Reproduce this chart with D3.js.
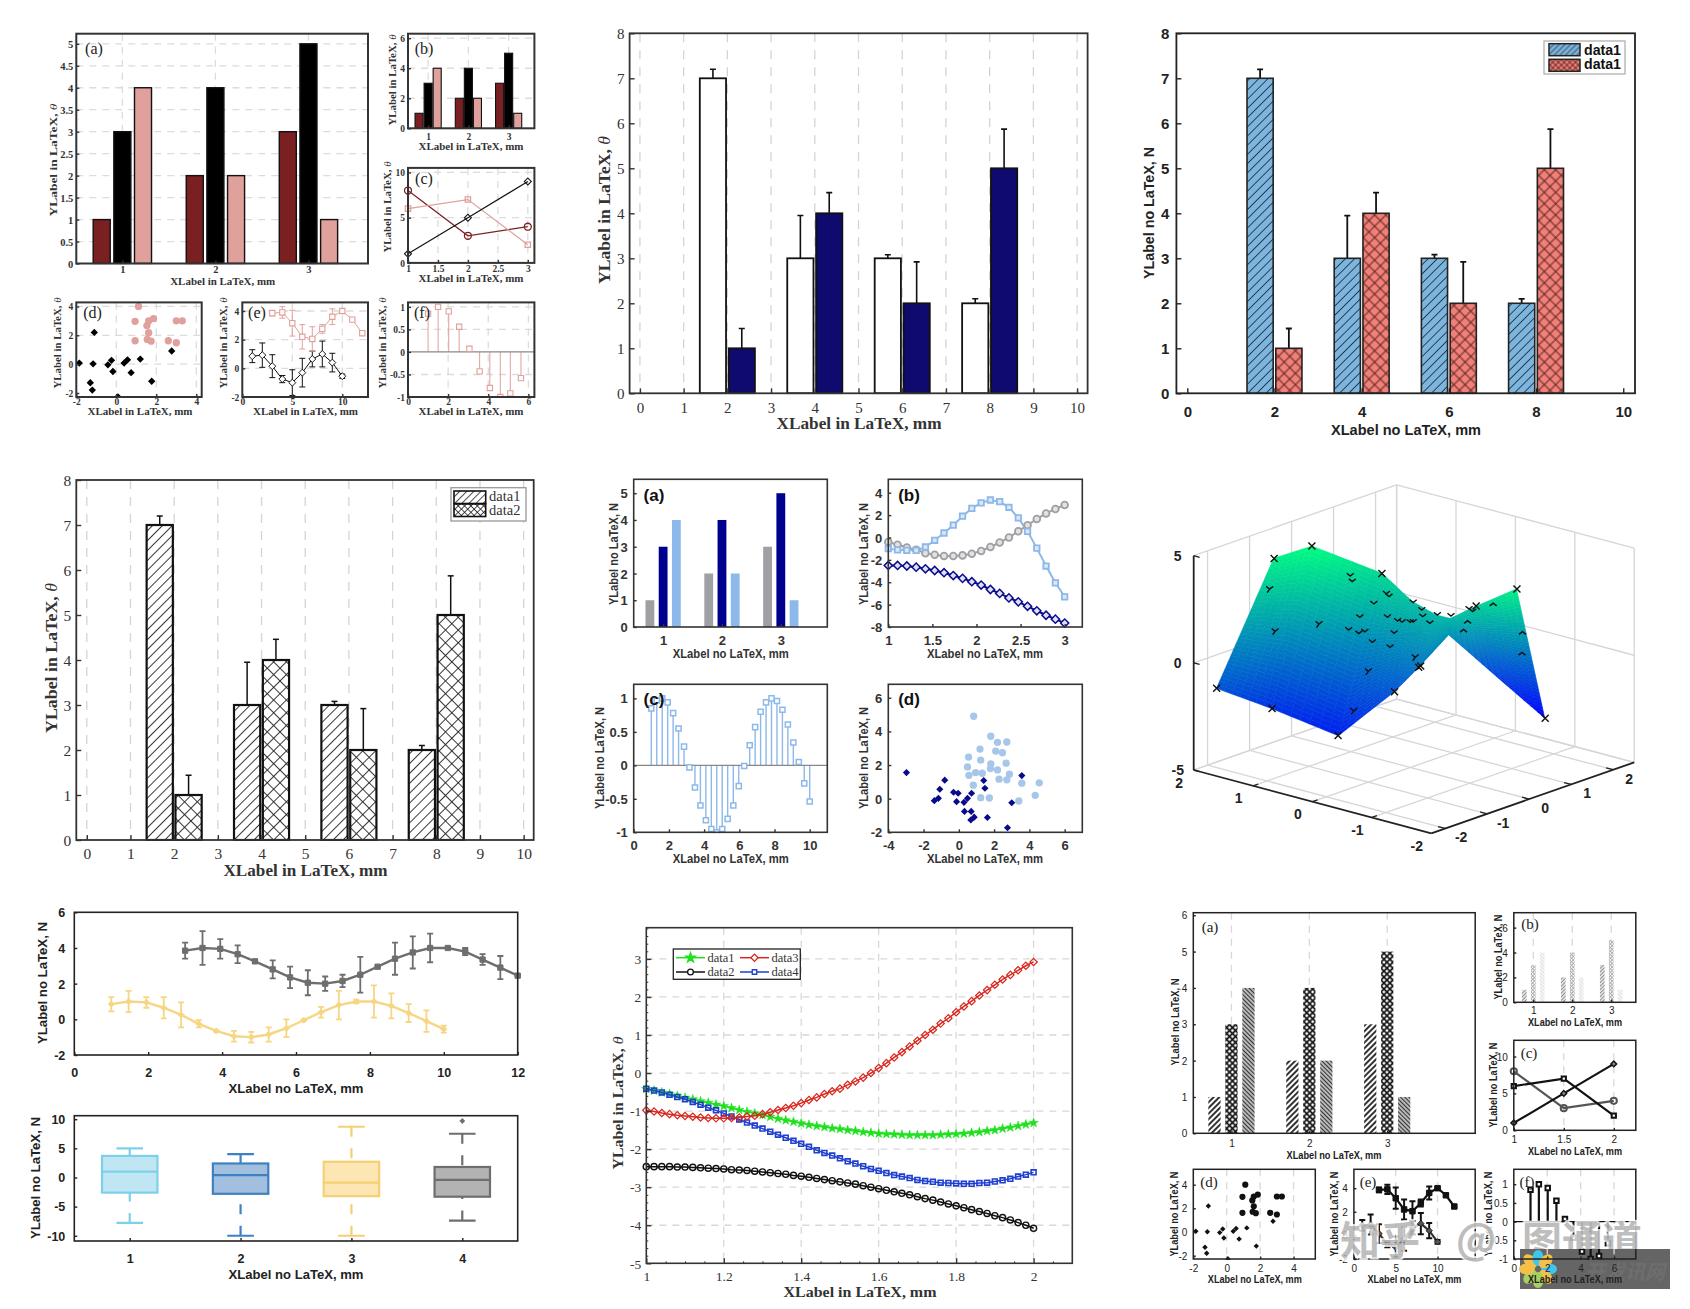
<!DOCTYPE html>
<html><head><meta charset="utf-8">
<script src="https://cdnjs.cloudflare.com/ajax/libs/d3/7.8.5/d3.min.js"></script>
<style>html,body{margin:0;padding:0;background:#fff}svg{display:block}</style>
</head><body>
<script>
// ---------- DATA ----------
const groups3 = [1,2,3];
const barA = [1,2,3], barB = [3,4,5], barC = [4,2,1];
const lineX3 = [1,2,3], lineX2 = [1,1.5,2];
const lineCircle = [8,3,4], lineSquare = [6,7,2], lineDiamond = [1,5,9];

const scatBlackX = [-1.85,-1.16,-1.10,-1.30,-1.20,-0.42,-0.24,-0.17,0.08,0.39,0.56,0.74,1.20,1.77,2.77];
const scatBlackY = [0.07,0.02,2.2,-1.29,-1.8,-0.05,0.26,-0.51,-2.27,0.07,0.3,-0.59,0.35,-1.19,0.91];
const scatPinkX = [1.11,0.94,1.62,1.86,1.53,1.62,1.55,1.74,0.94,2.6,3,3,3.3];
const scatPinkY = [4,2.97,3,3.16,2.67,2.18,1.71,1.59,1.62,1.62,1.48,3,3];

const errX1 = [1,2,3,4,5,6,7,8,9,10];
const errY1 = [0.85,0.92,0.15,-0.75,-1,-0.3,0.65,1,0.4,-0.55];
const errE1 = [0.45,0.85,0.8,0.25,0.9,1,0.55,0.9,0.65,0.15];
const errX2 = [3,4,5,6,7,8,9,10,11,12];
const errY2 = [3.85,3.9,3.15,2.2,2.05,2.75,3.6,4,3.4,2.45];
const errE2 = [0.2,0.4,0.9,0.85,0.85,0.3,0.55,0.1,0.1,0.1];

const stemX = [1,1.5,2.03,2.55,3.06,3.57,4.08,4.6,5.1,5.63];
const stemY = [0.85,1,0.9,0.56,0.07,-0.43,-0.8,-1,-0.92,-0.58];

const pairX = [2,4,6,8];
const pairA = [7,3,3,2], pairB = [1,4,2,5];
const pairErrA = [0.2,0.95,0.08,0.1], pairErrB = [0.44,0.46,0.92,0.87];
const pairXTicks = [0,1,2,3,4,5,6,7,8,9,10];

const curveX = [1,1.105,1.21,1.316,1.421,1.526,1.632,1.737,1.842,1.947,2.053,2.158,2.263,2.368,2.474,2.579,2.684,2.789,2.895,3];
const curveGray = [-0.4,-0.65,-0.9,-1.1,-1.4,-1.55,-1.65,-1.65,-1.6,-1.45,-1.2,-0.85,-0.45,0,0.55,1.1,1.65,2.15,2.55,2.9];
const curveBlue = [-1,-1.1,-1.15,-1.15,-0.85,-0.25,0.4,1.1,1.9,2.6,3.1,3.35,3.2,2.7,1.75,0.55,-0.95,-2.55,-4.05,-5.3];
const curveNavy = [-2.5,-2.5,-2.55,-2.65,-2.8,-2.95,-3.15,-3.4,-3.65,-3.95,-4.25,-4.65,-5,-5.4,-5.75,-6.15,-6.55,-6.95,-7.3,-7.65];

const sineX = [1,1.31,1.62,1.93,2.24,2.55,2.86,3.17,3.48,3.79,4.1,4.41,4.72,5.03,5.34,5.66,5.97,6.28,6.59,6.9,7.21,7.52,7.83,8.14,8.45,8.76,9.07,9.38,9.69,10];
const sineY = [0.85,0.97,1,0.94,0.78,0.55,0.28,-0.03,-0.33,-0.6,-0.82,-0.95,-1,-0.95,-0.8,-0.6,-0.31,-0.01,0.3,0.57,0.8,0.94,1,0.96,0.83,0.61,0.34,0.05,-0.27,-0.54];

const cloudBlueX = [0.84,1.81,2.19,2.72,1.2,2.09,2.47,0.55,1.24,2.68,1.81,0.49,1.79,2.19,0.57,1.33,0.95,2.87,2.28,2.72,0.82,3.57,4.56,4.33,1.24,1.73,3.4];
const cloudBlueY = [4.9,3.71,3.35,3.37,2.95,2.83,2.73,2.47,2.29,2.11,2.07,1.89,1.79,1.71,1.39,1.51,1.55,1.45,1.16,1.12,0.8,0.92,0.94,0.2,0.06,0.04,-0.14];
const cloudNavyX = [-2.97,-0.8,-1.08,-1.16,-1.39,-0.3,-0.13,-0.04,0.29,0.49,0.72,0.32,0.7,0.87,0.68,1.41,1.48,1.62,2.76,3,3.57];
const cloudNavyY = [1.55,1.1,0.56,0.02,-0.12,0.38,-0.18,0.32,-0.22,0.02,0.32,-0.76,-0.76,-1.1,-1.27,1.08,0.62,-1.12,-1.73,-0.24,1.37];

// 3D surface: upper and lower edges of the two sheets
const leftTopX = [2.04,1.72,0.92,0.27,-0.2,-0.43], leftTopY = [-0.37,0.09,0.63,0.43,0.33,0.34], leftTopZ = [3.51,4,2.95,2.25,2.04,2.04];
const leftBotX = [1.49,0.94,-0.11,-0.3,-0.36,-0.29], leftBotY = [-2.51,-1.97,-1.87,-0.8,-0.31,0.5], leftBotZ = [-0.69,-1.6,-2.16,-0.69,0.15,1.06];
const rightTopX = [-0.43,-0.67,-1.2], rightTopY = [0.34,0.62,0.83], rightTopZ = [2.04,2.6,3.65];
const rightBotX = [-0.29,-0.54,-1.11], rightBotY = [0.5,1.29,1.63], rightBotZ = [1.06,-1.25,-3];

const ptX = [2.37,1.82,1.46,0.79,1.21,0.67,0.44,0.42,-0.5,-0.77,-0.11,1.84,
  1.86,1.81,1.39,1.09,1.07,0.75,0.72,0.87,1.0,1.11,1.01,0.95,0.88,0.71,0.67,0.74,0.64,0.6,0.52,0.49,0.49,0.41,0.4,0.33,0.26,0.13,-0.04,-0.08,0.47,0.92,1.06,
  -0.27,-0.03,0.01,-0.55,-0.55];
const ptY = [-1.26,-0.67,-0.28,0.44,-0.01,0.57,0.82,0.84,1.83,2.12,1.41,-0.69,
  -0.72,-0.66,-0.21,0.11,0.13,0.49,0.51,0.36,0.21,0.1,0.2,0.26,0.34,0.52,0.56,0.5,0.6,0.65,0.73,0.76,0.76,0.85,0.86,0.93,1.01,1.15,1.34,1.37,0.78,0.3,0.15,
  1.59,1.32,1.28,1.89,1.88];
const ptZ = [-2.19,3.87,4.45,3.17,-4.4,-2.35,-1.21,-1.15,2.44,-3.59,1.65,-3.14,
  2.44,0.47,0.81,3.05,2.79,2.21,2.09,1.74,1.12,0.52,0.36,0.45,-0.04,-0.28,0.38,1.12,0.95,0.89,0.89,0.9,1.81,1.46,1.15,0.84,1.23,1.18,1.5,1.39,-0.74,-1.4,-3.25,
  1.78,0.97,0.56,0.45,-0.51];
const ptKind = ['x','x','x','x','x','x','x','x','x','x','x','x',
  'y','y','y','v','v','v','v','v','v','v','v','v','v','v','v','v','v','v','v','v','v','v','v','v','v','v','v','v','y','y','y',
  'n','n','n','n','n'];

const seqX1 = [1,1.47,1.95,2.42,2.89,3.37,3.84,4.32,4.79,5.26,5.74,6.21,6.68,7.16,7.63,8.11,8.58,9.05,9.53,10];
const seqY1 = [0.85,1,0.95,0.65,0.25,-0.25,-0.65,-0.95,-1,-0.85,-0.5,-0.05,0.4,0.8,1,1,0.75,0.35,-0.1,-0.55];
const seqE1 = [0.4,0.6,0.3,0.6,0.7,0.2,0.05,0.3,0.3,0.4,0.5,0.05,0.3,0.8,0.1,0.9,0.7,0.5,0.6,0.2];
const seqX2 = [3,3.47,3.95,4.42,4.89,5.37,5.84,6.32,6.79,7.26,7.74,8.21,8.68,9.16,9.63,10.11,10.58,11.05,11.53,12];
const seqY2 = [3.85,4,3.95,3.65,3.25,2.8,2.35,2.05,2,2.15,2.5,2.95,3.4,3.75,4,4,3.8,3.35,2.9,2.45];
const seqE2 = [0.45,0.95,0.55,0.5,0.1,0.5,0.6,0.7,0.4,0.35,1,0.05,0.9,0.9,0.8,0.05,0.2,0.3,0.65,0.05];

const boxPos = [1,2,3,4];
const boxQ1 = [-2.6,-2.8,-3.2,-3.3], boxMed = [1,0.4,-0.9,-0.4], boxQ3 = [3.7,2.4,2.7,1.8];
const boxLow = [-7.8,-10,-10,-7.4], boxHigh = [5,4,8.7,7.5];
const boxOutlierX = [4], boxOutlierY = [9.7];
const boxStroke = ['#7ed0ea','#3f80c0','#f6cf72','#6e6e6e'], boxFill = ['#c0e6f4','#a3bfe0','#fce6b4','#b3b3b3'];

const data1 = [-.42,-.46,-.51,-.55,-.6,-.65,-.69,-.74,-.78,-.83,-.87,-.92,-.97,-1.02,-1.06,-1.1,-1.15,-1.2,-1.24,-1.28,-1.32,-1.36,-1.39,-1.42,-1.45,-1.47,-1.5,-1.52,-1.55,-1.57,-1.59,-1.6,-1.61,-1.62,-1.63,-1.63,-1.63,-1.63,-1.62,-1.61,-1.6,-1.59,-1.57,-1.55,-1.52,-1.5,-1.46,-1.43,-1.39,-1.35,-1.31];
const data2 = [-2.46,-2.46,-2.46,-2.46,-2.47,-2.47,-2.48,-2.49,-2.5,-2.51,-2.52,-2.54,-2.55,-2.56,-2.58,-2.6,-2.62,-2.64,-2.66,-2.69,-2.71,-2.74,-2.77,-2.8,-2.83,-2.86,-2.89,-2.92,-2.96,-3,-3.04,-3.08,-3.12,-3.16,-3.2,-3.25,-3.3,-3.34,-3.39,-3.44,-3.49,-3.54,-3.59,-3.64,-3.69,-3.75,-3.8,-3.86,-3.93,-4,-4.08];
const data3 = [-.98,-1.01,-1.05,-1.08,-1.11,-1.13,-1.15,-1.17,-1.18,-1.19,-1.19,-1.18,-1.17,-1.14,-1.12,-1.08,-1.03,-.97,-.92,-.86,-.79,-.71,-.64,-.55,-.48,-.41,-.31,-.22,-.12,0,.13,.26,.41,.55,.7,.85,1,1.14,1.3,1.44,1.6,1.75,1.89,2.04,2.18,2.32,2.46,2.58,2.7,2.82,2.92];
const data4 = [-.41,-.46,-.51,-.57,-.63,-.69,-.76,-.83,-.91,-.98,-1.06,-1.14,-1.22,-1.3,-1.38,-1.46,-1.54,-1.62,-1.7,-1.78,-1.86,-1.94,-2.03,-2.1,-2.17,-2.24,-2.32,-2.38,-2.45,-2.52,-2.57,-2.63,-2.68,-2.72,-2.76,-2.81,-2.84,-2.86,-2.88,-2.89,-2.9,-2.91,-2.91,-2.89,-2.88,-2.85,-2.82,-2.78,-2.72,-2.67,-2.61];
const dataX = [1,1.02,1.04,1.06,1.08,1.1,1.12,1.14,1.16,1.18,1.2,1.22,1.24,1.26,1.28,1.3,1.32,1.34,1.36,1.38,1.4,1.42,1.44,1.46,1.48,1.5,1.52,1.54,1.56,1.58,1.6,1.62,1.64,1.66,1.68,1.7,1.72,1.74,1.76,1.78,1.8,1.82,1.84,1.86,1.88,1.9,1.92,1.94,1.96,1.98,2];

// ---------- STYLE CONSTANTS ----------
const SERIF='"Liberation Serif",serif', SANS='"Liberation Sans",sans-serif';
const DRED='#7a2023', PINK='#e0a09c', NAVY='#0a0a8c', LBLUE='#8db8ea', GRAY='#a0a0a4';
const XLL='XLabel in LaTeX, mm', XLN='XLabel no LaTeX, mm', YLL='YLabel in LaTeX, ', YLN='YLabel no LaTeX, N';

const svg=d3.select('body').append('svg').attr('width',1690).attr('height',1309)
  .attr('viewBox','0 0 1690 1309');
const defs=svg.append('defs');
function hatch(id,bg,fg,kind,s,sw,ang){
  const p=defs.append('pattern').attr('id',id).attr('patternUnits','userSpaceOnUse')
    .attr('width',s).attr('height',s).attr('patternTransform',`rotate(${ang})`);
  p.append('rect').attr('width',s).attr('height',s).attr('fill',bg);
  p.append('line').attr('x1',s/2).attr('x2',s/2).attr('y1',0).attr('y2',s).attr('stroke',fg).attr('stroke-width',sw);
  if(kind==='cross')p.append('line').attr('y1',s/2).attr('y2',s/2).attr('x1',0).attr('x2',s).attr('stroke',fg).attr('stroke-width',sw);
  return `url(#${id})`;
}
const hDiag=hatch('hDiag','#fff','#222','diag',7,0.9,45), hCross=hatch('hCross','#fff','#222','cross',9,0.9,45);
const hBlue=hatch('hBlue','#7eb5dc','#1c3550','diag',6.5,0.9,45), hRed=hatch('hRed','#f08078','#4a1a18','cross',8,0.9,45);
const hBlueS=hatch('hBlueS','#7eb5dc','#1c3550','diag',4,0.8,45), hRedS=hatch('hRedS','#f08078','#4a1a18','cross',4,0.8,45);
const hDiagS=hatch('hDiagS','#fff','#222','diag',5,0.8,45), hCrossS=hatch('hCrossS','#fff','#222','cross',4.5,0.8,45);
const hA=hatch('hA','#fff','#333','diag',4,2,45), hB=hatch('hB','#fff','#111','cross',4.2,1.7,45), hC=hatch('hC','#fff','#333','diag',3,1.7,-45);
const hA2=hatch('hA2','#fff','#888','diag',2.5,1.2,45), hB2=hatch('hB2','#fff','#aaa','cross',2.5,.9,45), hC2=hatch('hC2','#fff','#ddd','diag',2.5,1.2,-45);

let clipN=0;
function label(g,o,txt,x,y,rot,w,theta){
  const t=g.append('text').attr('transform',`translate(${x},${y})`+(rot?' rotate(-90)':''))
    .attr('text-anchor','middle').attr('dominant-baseline','central')
    .style('font-family',o.lf||o.font).style('font-weight',o.lw||o.weight||400).style('font-size',(o.lfs||o.fs+1)+'px').attr('fill',o.lc||o.color||'#222')
    .attr('textLength',w).attr('lengthAdjust','spacingAndGlyphs');
  t.append('tspan').text(txt);
  if(theta)t.append('tspan').style('font-style','italic').style('font-weight',400).text('θ');
}
function panel(o){
  const [x0,y0,x1,y1]=o.b;
  const x=d3.scaleLinear().domain(o.xd).range([x0,x1]);
  const y=d3.scaleLinear().domain(o.yd).range([y1,y0]);
  const g=svg.append('g');
  const gs=o.gs||'#d9d9d9';
  (o.gx||[]).forEach(v=>g.append('line').attr('x1',x(v)).attr('x2',x(v)).attr('y1',y0).attr('y2',y1)
      .attr('stroke',gs).attr('stroke-width',o.gw||1.3).attr('stroke-dasharray',o.gd||'7 6'));
  (o.gy||[]).forEach(v=>g.append('line').attr('y1',y(v)).attr('y2',y(v)).attr('x1',x0).attr('x2',x1)
      .attr('stroke',gs).attr('stroke-width',o.gw||1.3).attr('stroke-dasharray',o.gd||'7 6'));
  const id='clip'+(clipN++);
  defs.append('clipPath').attr('id',id).append('rect').attr('x',x0-1).attr('y',y0-1).attr('width',x1-x0+2).attr('height',y1-y0+2);
  const content=g.append('g').attr('clip-path',o.noclip?null:`url(#${id})`);
  const color=o.color||'#222', tl=o.tl==null?3:o.tl, sw=o.sw||1.8;
  const ax=d3.axisBottom(x).tickValues(o.xt).tickSizeInner(-tl).tickSizeOuter(0).tickFormat(d=>String(d));
  const ay=d3.axisLeft(y).tickValues(o.yt).tickSizeInner(-tl).tickSizeOuter(0).tickFormat(d=>String(d));
  const front=svg.append('g');
  const gxA=front.append('g').attr('transform',`translate(0,${y1})`).call(ax);
  const gyA=front.append('g').attr('transform',`translate(${x0},0)`).call(ay);
  [gxA,gyA].forEach(s=>{
    s.select('.domain').remove();
    s.selectAll('.tick line').attr('stroke',color).attr('stroke-width',Math.min(sw,1.4));
    s.selectAll('text').style('font-family',o.font).style('font-weight',o.weight||400).style('font-size',o.fs+'px').attr('fill',color);
  });
  gxA.selectAll('text').attr('y',o.xtp).attr('dy','.35em');
  gyA.selectAll('text').attr('x',-(o.ytp==null?5:o.ytp)).attr('dy','.35em');
  if(o.xm)front.append('g').attr('transform',`translate(0,${y1})`).call(d3.axisBottom(x).tickValues(o.xm).tickSizeInner(-2).tickSizeOuter(0).tickFormat(''))
     .call(s=>{s.select('.domain').remove();s.selectAll('line').attr('stroke',color);});
  if(o.ym)front.append('g').attr('transform',`translate(${x0},0)`).call(d3.axisLeft(y).tickValues(o.ym).tickSizeInner(-2).tickSizeOuter(0).tickFormat(''))
     .call(s=>{s.select('.domain').remove();s.selectAll('line').attr('stroke',color);});
  front.append('rect').attr('x',x0).attr('y',y0).attr('width',x1-x0).attr('height',y1-y0)
     .attr('fill','none').attr('stroke',o.frame||color).attr('stroke-width',sw);
  if(o.xl)label(front,o,o.xl[0],o.xl[1],o.xl[2],false,o.xl[3]);
  if(o.yl)label(front,o,o.yl[0],o.yl[1],o.yl[2],true,o.yl[3],o.yl[4]);
  if(o.tag)front.append('text').attr('x',o.tag[1]).attr('y',o.tag[2]).attr('text-anchor','middle').attr('dominant-baseline','central')
     .style('font-family',o.tf||o.font).style('font-weight',o.tw||400).style('font-size',(o.tfs||16)+'px').attr('fill',o.tc||'#222').text(o.tag[0]);
  return {x,y,g:content,front,o};
}
function bars(p,xs,vals,off,w,fill,stroke,sw){
  p.g.selectAll(null).data(xs).enter().append('rect')
    .attr('x',(d)=>p.x(d+off-w/2)).attr('width',p.x(w)-p.x(0))
    .attr('y',(d,i)=>p.y(vals[i])).attr('height',(d,i)=>p.y(0)-p.y(vals[i]))
    .attr('fill',fill).attr('stroke',stroke||'none').attr('stroke-width',sw||0);
}
function errUp(p,xs,vals,errs,off,cap,sw){
  xs.forEach((d,i)=>{
    const X=p.x(d+off),Y0=p.y(vals[i]),Y1=p.y(vals[i]+errs[i]);
    p.g.append('line').attr('x1',X).attr('x2',X).attr('y1',Y0).attr('y2',Y1).attr('stroke','#111').attr('stroke-width',sw);
    p.g.append('line').attr('x1',X-cap).attr('x2',X+cap).attr('y1',Y1).attr('y2',Y1).attr('stroke','#111').attr('stroke-width',sw);
  });
}
function errBoth(p,xs,vals,errs,cap,color,sw){
  xs.forEach((d,i)=>{
    const X=p.x(d),Y0=p.y(vals[i]-errs[i]),Y1=p.y(vals[i]+errs[i]);
    p.g.append('path').attr('d',`M${X},${Y0}L${X},${Y1}M${X-cap},${Y0}H${X+cap}M${X-cap},${Y1}H${X+cap}`)
      .attr('stroke',color).attr('stroke-width',sw).attr('fill','none');
  });
}
function curve(p,xs,vals,color,sw){
  p.g.append('path').datum(xs).attr('fill','none').attr('stroke',color).attr('stroke-width',sw)
    .attr('d',d3.line().x(d=>p.x(d)).y((d,i)=>p.y(vals[i])));
}
const symT={o:d3.symbolCircle,s:d3.symbolSquare,d:d3.symbolSquare,p:d3.symbolStar};
function marks(p,xs,vals,kind,area,fill,stroke,sw){
  const gen=d3.symbol().type(symT[kind]).size(area);
  xs.forEach((d,i)=>{
    p.g.append('path').attr('d',gen())
      .attr('transform',`translate(${p.x(d)},${p.y(vals[i])})`+(kind==='d'?' rotate(45) scale(.82,.82)':''))
      .attr('fill',fill).attr('stroke',stroke||'none').attr('stroke-width',sw||0);
  });
}
function stems(p,xs,vals,color,sw){
  xs.forEach((d,i)=>p.g.append('line').attr('x1',p.x(d)).attr('x2',p.x(d)).attr('y1',p.y(0)).attr('y2',p.y(vals[i]))
    .attr('stroke',color).attr('stroke-width',sw));
  p.g.append('line').attr('x1',p.o.b[0]).attr('x2',p.o.b[2]).attr('y1',p.y(0)).attr('y2',p.y(0)).attr('stroke',color==='#111'?'#111':'#888').attr('stroke-width',1.2);
}

// ---------- GROUP 1 (top left) ----------
const g1={font:SERIF,weight:700,fs:9.5,lfs:10,color:'#333',sw:2,tl:3,gs:'#dcdcdc',ytp:3};
const a1=panel({...g1,fs:10.5,lfs:11,b:[76.3,33.7,368,263.5],xd:[.505,3.64],yd:[0,5.23],xt:groups3,yt:[0,.5,1,1.5,2,2.5,3,3.5,4,4.5,5],
  gx:groups3,gy:[.5,1,1.5,2,2.5,3,3.5,4,4.5,5],xtp:6,xl:[XLL,222.7,281,105],yl:[YLL,53,160,113,1],tag:['(a)',94,48]});
[[barA,-.222,DRED],[barB,0,'#000'],[barC,.222,PINK]].forEach(([v,off,c])=>bars(a1,groups3,v,off,.183,c,'#111',1.4));
const b1=panel({...g1,b:[408,33.7,534.4,128.3],xd:[.5,3.64],yd:[0,6.3],xt:groups3,yt:[0,2,4,6],gx:groups3,gy:[2,4,6],xtp:8,
  xl:[XLL,471,146,105],yl:[YLL,391.7,80,91,1],tag:['(b)',424,48]});
[[barA,-.225,DRED],[barB,0,'#000'],[barC,.225,PINK]].forEach(([v,off,c])=>bars(b1,groups3,v,off,.2,c,'#111',1.1));
const c1=panel({...g1,b:[408,167.9,534.4,262.9],xd:[1,3.11],yd:[0,10.5],xt:[1,1.5,2,2.5,3],yt:[0,5,10],gx:[1.5,2,2.5,3],gy:[5,10],xtp:5.5,
  xl:[XLL,471,278,105],yl:[YLL,387,207,91,1],tag:['(c)',424,178],noclip:true});
curve(c1,lineX3,lineCircle,DRED,1.2);curve(c1,lineX3,lineSquare,PINK,1.2);curve(c1,lineX3,lineDiamond,'#111',1.2);
marks(c1,lineX3,lineCircle,'o',38,'none',DRED,1.3);marks(c1,lineX3,lineSquare,'s',28,'none',PINK,1.3);marks(c1,lineX3,lineDiamond,'d',36,'none','#111',1.3);
const d1=panel({...g1,b:[76.3,302.4,201.7,397],xd:[-2,4.27],yd:[-2.28,4.28],xt:[-2,0,2,4],yt:[-2,0,2,4],gx:[0,2,4],gy:[0,2,4],xtp:4.5,
  xl:[XLL,140,411,105],yl:[YLL,57,343,91,1],tag:['(d)',92.5,312]});
marks(d1,scatPinkX,scatPinkY,'o',42,PINK);marks(d1,scatBlackX,scatBlackY,'d',40,'#000');
const e1=panel({...g1,b:[242.3,302.4,368,397],xd:[0,12.57],yd:[-2,4.6],xt:[0,5,10],yt:[-2,0,2,4],gx:[5,10],gy:[0,2,4],xtp:4.5,
  xl:[XLL,305.5,411,105],yl:[YLL,222.7,343,91,1],tag:['(e)',257,312]});
curve(e1,errX1,errY1,'#111',1);errBoth(e1,errX1,errY1,errE1,3,'#111',1);marks(e1,errX1,errY1,'d',36,'#fff','#111',1.1);
curve(e1,errX2,errY2,PINK,1);errBoth(e1,errX2,errY2,errE2,3,PINK,1);marks(e1,errX2,errY2,'s',28,'#fff',PINK,1.1);
const f1=panel({...g1,b:[408,302.4,534.4,397],xd:[0,6.3],yd:[-1,1.1],xt:[0,2,4,6],yt:[-1,-.5,0,.5,1],gx:[2,4,6],gy:[-.5,.5,1],xtp:4.5,
  xl:[XLL,471,411,105],yl:[YLL,381.6,343,91,1],tag:['(f)',422,312]});
stems(f1,stemX,stemY,PINK,1);marks(f1,stemX,stemY,'s',28,'#fff',PINK,1.1);

// ---------- TOP MIDDLE ----------
const tm=panel({font:SERIF,fs:15,lfs:17,weight:400,lw:700,color:'#333',sw:1.8,tl:5,ytp:5,b:[629.6,33.3,1087.6,393.3],xd:[-.236,10.24],yd:[0,8],xt:pairXTicks,yt:[0,1,2,3,4,5,6,7,8],
  gx:pairXTicks,gy:[],gs:'#d4d4d4',gd:'9 8',xtp:14,xl:[XLL,859,423,165],yl:[YLL,604,210,148,1]});
errUp(tm,pairX,pairA,pairErrA,-.33,3,1.6);errUp(tm,pairX,pairB,pairErrB,.33,3,1.6);
bars(tm,pairX,pairA,-.33,.6,'#fff','#111',1.8);bars(tm,pairX,pairB,.33,.6,'#0f0a6e','#111',1.8);

// ---------- TOP RIGHT ----------
const tr=panel({font:SANS,fs:15,weight:700,lfs:15,color:'#222',sw:1.8,tl:5,ytp:7,b:[1176.4,33.3,1635,393.3],xd:[-.25,10.27],yd:[0,8],xt:[0,2,4,6,8,10],yt:[0,1,2,3,4,5,6,7,8],
  xtp:18,xl:[XLN,1406,429,150],yl:[YLN,1148,213,132]});
errUp(tr,pairX,pairA,pairErrA,-.33,3,1.8);errUp(tr,pairX,pairB,pairErrB,.33,3,1.8);
bars(tr,pairX,pairA,-.33,.6,hBlue,'#222',1.6);bars(tr,pairX,pairB,.33,.6,hRed,'#222',1.6);
const lg1=svg.append('g');
lg1.append('rect').attr('x',1544).attr('y',41).attr('width',81).attr('height',33).attr('fill','#fff').attr('stroke','#aaa').attr('stroke-width',1.2);
[[43.7,hBlueS,'data1',50],[59.3,hRedS,'data1',64]].forEach(([yy,f,t,ty])=>{
  lg1.append('rect').attr('x',1549).attr('y',yy).attr('width',31).attr('height',12).attr('fill',f).attr('stroke','#222').attr('stroke-width',1.5);
  lg1.append('text').attr('x',1584).attr('y',ty).attr('dominant-baseline','central').attr('textLength',37).attr('lengthAdjust','spacingAndGlyphs')
    .style('font-family',SANS).style('font-weight',700).style('font-size','14px').attr('fill','#111').text(t);
});

// ---------- MIDDLE LEFT ----------
const ml=panel({font:SERIF,fs:15.5,lfs:17,weight:400,lw:700,color:'#333',sw:1.8,tl:5,ytp:5,b:[76.3,480,533.7,840],xd:[-.24,10.23],yd:[0,8],xt:pairXTicks,yt:[0,1,2,3,4,5,6,7,8],
  gx:pairXTicks,gs:'#d4d4d4',gd:'9 8',xtp:14,xl:[XLL,305.5,870,164],yl:[YLL,51,658,150,1]});
errUp(ml,pairX,pairA,pairErrA,-.33,3,1.5);errUp(ml,pairX,pairB,pairErrB,.33,3,1.5);
bars(ml,pairX,pairA,-.33,.6,hDiag,'#111',2.2);bars(ml,pairX,pairB,.33,.6,hCross,'#111',2.2);
const lg2=svg.append('g');
lg2.append('rect').attr('x',451).attr('y',487.7).attr('width',75).attr('height',33.3).attr('fill','#fff').attr('stroke','#999').attr('stroke-width',1.3);
[[491,hDiagS,'data1',495.5],[504,hCrossS,'data2',510]].forEach(([yy,f,t,ty])=>{
  lg2.append('rect').attr('x',454).attr('y',yy).attr('width',31.7).attr('height',12.5).attr('fill',f).attr('stroke','#111').attr('stroke-width',1.6);
  lg2.append('text').attr('x',489).attr('y',ty).attr('dominant-baseline','central').style('font-family',SERIF).style('font-size','14.5px').attr('fill','#333').text(t);
});

// ---------- MIDDLE MIDDLE ----------
const mm={font:SANS,fs:13,weight:700,lfs:13,color:'#333',sw:1.6,tl:3,ytp:6,tf:SANS,tw:700,tfs:17,tc:'#111'};
const am=panel({...mm,b:[633.7,479.3,827.3,627],xd:[.5,3.79],yd:[0,5.52],xt:groups3,yt:[0,1,2,3,4,5],xtp:13,xl:[XLN,730.7,653,116],yl:[YLN,612.7,554,102],tag:['(a)',654,495]});
[[barA,-.225,GRAY],[barB,0,'#00008f'],[barC,.225,LBLUE]].forEach(([v,off,c])=>bars(am,groups3,v,off,.15,c));
const bm=panel({...mm,b:[888.3,479.3,1082.3,627],xd:[1,3.2],yd:[-8,5.2],xt:[1,1.5,2,2.5,3],yt:[-8,-6,-4,-2,0,2,4],xtp:13,xl:[XLN,985,653,116],yl:[YLN,863,554,102],tag:['(b)',909,495],noclip:true});
curve(bm,curveX,curveGray,GRAY,2);curve(bm,curveX,curveBlue,LBLUE,2);curve(bm,curveX,curveNavy,NAVY,2);
marks(bm,curveX,curveGray,'o',36,'#e2e2e4',GRAY,1.8);marks(bm,curveX,curveBlue,'s',30,'#dbe8f8',LBLUE,1.8);marks(bm,curveX,curveNavy,'d',50,'#dfe0f5',NAVY,1.8);
const cm=panel({...mm,b:[633.7,684.3,827.3,832.3],xd:[0,11],yd:[-1,1.21],xt:[0,2,4,6,8,10],yt:[-1,-.5,0,.5,1],xtp:13,xl:[XLN,730.7,858,116],yl:[YLN,599.3,758,102],tag:['(c)',654,699]});
stems(cm,sineX,sineY,LBLUE,1.4);marks(cm,sineX,sineY,'s',26,'#fff',LBLUE,1.5);
const dm=panel({...mm,b:[888.3,684.3,1082.3,832.3],xd:[-4,7],yd:[-2,6.8],xt:[-4,-2,0,2,4,6],yt:[-2,0,2,4,6],xtp:13,xl:[XLN,985,858,116],yl:[YLN,863,758,102],tag:['(d)',909,699]});
marks(dm,cloudBlueX,cloudBlueY,'o',42,'#a6c6ea');marks(dm,cloudNavyX,cloudNavyY,'d',38,NAVY);

// ---------- 3D SURFACE ----------
(function(){
  const X0=1193.7,Y0=770,yLo=-2.33,yHi=2.5,xHi=2,xLo=-2;
  const axX=d3.scaleLinear().domain([2,-2]).range([0,1]);
  const axY=d3.scaleLinear().domain([yLo,yHi]).range([0,1]);
  const axZ=d3.scaleLinear().domain([-5,5]).range([0,-214.3]);
  const VX=[237.6,63.3],VY=[202.9,-70.9];
  const proj=(x,y,z)=>[X0+axX(x)*VX[0]+axY(y)*VY[0], Y0+axX(x)*VX[1]+axY(y)*VY[1]+axZ(z)];
  const g=svg.append('g');
  const seg=(a,b,col,sw)=>{const p=proj(...a),q=proj(...b);
    g.append('line').attr('x1',p[0]).attr('y1',p[1]).attr('x2',q[0]).attr('y2',q[1]).attr('stroke',col).attr('stroke-width',sw);};
  const GR='#d6d6d6',xT=[2,1,0,-1,-2],yT=[-2,-1,0,1,2],zT=[-5,0,5];
  xT.forEach(v=>{seg([v,yLo,-5],[v,yHi,-5],GR,1.3);seg([v,yHi,-5],[v,yHi,5],GR,1.3);});
  yT.concat([yHi]).forEach(v=>{seg([2,v,-5],[-2,v,-5],GR,1.3);seg([2,v,-5],[2,v,5],GR,1.3);});
  zT.forEach(v=>{seg([2,yLo,v],[2,yHi,v],GR,1.3);seg([2,yHi,v],[-2,yHi,v],GR,1.3);});
  const BK='#222';
  seg([2,yLo,-5],[2,yLo,5],BK,1.8);seg([2,yLo,-5],[-2,yLo,-5],BK,1.8);seg([-2,yLo,-5],[-2,yHi,-5],BK,1.8);
  xT.slice(1,-1).forEach(v=>seg([v,yLo,-5],[v,yLo+.12,-5],BK,1.3));
  yT.forEach(v=>seg([-2,v,-5],[-1.88,v,-5],BK,1.3));
  zT.forEach(v=>seg([2,yLo,v],[1.9,yLo,v],BK,1.3));
  const txt=(t,p,dx,dy)=>g.append('text').attr('x',p[0]+dx).attr('y',p[1]+dy).attr('text-anchor','middle').attr('dominant-baseline','central')
     .style('font-family',SANS).style('font-size','14px').style('font-weight',700).attr('fill','#222').text(t);
  zT.forEach(v=>txt(String(v),proj(2,yLo,v),-16,0));
  xT.forEach(v=>txt(String(v),proj(v,yLo,-5),-14.5,12.5));
  yT.forEach(v=>txt(String(v),proj(-2,v,-5),16,9));
  const col=d3.scaleLinear().domain([-3,4]).range(['rgb(0,0,255)','rgb(0,255,128)']);
  const lerp=(a,b,t)=>a+(b-a)*t;
  function sheet(tx,ty,tz,bx,by,bz){
    const R=36,C=7;
    for(let i=0;i<tx.length-1;i++)for(let c=0;c<C;c++)for(let r=0;r<R;r++){
      const at=(u,v)=>{const s=(c+u)/C,w=(r+v)/R;
        const T=[lerp(tx[i],tx[i+1],s),lerp(ty[i],ty[i+1],s),lerp(tz[i],tz[i+1],s)];
        const B=[lerp(bx[i],bx[i+1],s),lerp(by[i],by[i+1],s),lerp(bz[i],bz[i+1],s)];
        return [lerp(T[0],B[0],w),lerp(T[1],B[1],w),lerp(T[2],B[2],w)];};
      const q=[at(0,0),at(1,0),at(1,1),at(0,1)];
      const z=d3.mean(q,d=>d[2]),c_=col(z);
      g.append('path').attr('d',d3.line()(q.map(d=>proj(...d)))+'Z').attr('fill',c_).attr('stroke',c_).attr('stroke-width',.5);
    }
  }
  sheet(rightTopX,rightTopY,rightTopZ,rightBotX,rightBotY,rightBotZ);
  sheet(leftTopX,leftTopY,leftTopZ,leftBotX,leftBotY,leftBotZ);
  const S=3.5;
  const shape={x:`M${-S},${-S}L${S},${S}M${-S},${S}L${S},${-S}`,v:`M${-S},${-S*.8}L0,0L${S},${-S*.8}`,
    n:`M${-S},${S*.8}L0,0L${S},${S*.8}`,y:`M${-S},${-S*.8}L0,0L${S},${-S*.8}M0,0L${-S*.7},${S}`};
  ptX.forEach((v,i)=>{
    const [px,py]=proj(v,ptY[i],ptZ[i]);
    g.append('path').attr('transform',`translate(${px},${py})`).attr('d',shape[ptKind[i]]).attr('fill','none').attr('stroke','#111').attr('stroke-width',1.4);
  });
})();

// ---------- BOTTOM LEFT ----------
const bl={font:SANS,fs:12.5,weight:700,lfs:12.5,color:'#222',sw:1.6,tl:3,ytp:9};
const ln=panel({...bl,b:[74.3,912.3,517.7,1055],xd:[0,12],yd:[-2,6],xt:[0,2,4,6,8,10,12],yt:[-2,0,2,4,6],xtp:18,xl:[XLN,296,1088.7,135],yl:[YLN,43.3,983,122],noclip:true});
const YEL='#f7d683',GR2='#6e6e6e';
curve(ln,seqX1,seqY1,YEL,2.4);errBoth(ln,seqX1,seqY1,seqE1,3,YEL,1.8);marks(ln,seqX1,seqY1,'d',28,YEL,YEL,1);
curve(ln,seqX2,seqY2,GR2,2.4);errBoth(ln,seqX2,seqY2,seqE2,3,GR2,1.8);marks(ln,seqX2,seqY2,'s',28,GR2,GR2,1);
const bp=panel({...bl,b:[74.3,1115.7,517.7,1241],xd:[.5,4.5],yd:[-10.9,10.6],xt:boxPos,yt:[-10,-5,0,5,10],xtp:18,xl:[XLN,296,1274.7,135],yl:[YLN,36,1178,122]});
boxPos.forEach((d,i)=>{
  const c=boxStroke[i],X=bp.x(d),W=bp.x(.5)-bp.x(0),CW=bp.x(.24)-bp.x(0);
  [[boxLow[i],boxQ1[i]],[boxHigh[i],boxQ3[i]]].forEach(([e,q])=>{
    bp.g.append('line').attr('x1',X).attr('x2',X).attr('y1',bp.y(e)).attr('y2',bp.y(q)).attr('stroke',c).attr('stroke-width',2.2).attr('stroke-dasharray','10 11.5');
    bp.g.append('line').attr('x1',X-CW/2).attr('x2',X+CW/2).attr('y1',bp.y(e)).attr('y2',bp.y(e)).attr('stroke',c).attr('stroke-width',2.2);
  });
  bp.g.append('rect').attr('x',X-W/2).attr('width',W).attr('y',bp.y(boxQ3[i])).attr('height',bp.y(boxQ1[i])-bp.y(boxQ3[i]))
    .attr('fill',boxFill[i]).attr('stroke',c).attr('stroke-width',2.2);
  bp.g.append('line').attr('x1',X-W/2).attr('x2',X+W/2).attr('y1',bp.y(boxMed[i])).attr('y2',bp.y(boxMed[i])).attr('stroke',c).attr('stroke-width',2.2);
});
marks(bp,boxOutlierX,boxOutlierY,'d',18,GR2,GR2,1);

// ---------- BOTTOM MIDDLE ----------
const bmx=panel({font:SERIF,fs:13.5,lfs:15,weight:400,lw:700,color:'#333',sw:1.6,tl:5,ytp:5,b:[646.3,927.7,1072.3,1263.3],xd:[1,2.1],yd:[-5,3.82],
  xt:[1,1.2,1.4,1.6,1.8,2],yt:[-5,-4,-3,-2,-1,0,1,2,3],gx:[1.2,1.4,1.6,1.8,2],gy:[-4,-3,-2,-1,0,1,2,3],gs:'#d8d8d8',xtp:13,
  xm:[1.05,1.1,1.15,1.25,1.3,1.35,1.45,1.5,1.55,1.65,1.7,1.75,1.85,1.9,1.95,2.05],
  ym:[-4.8,-4.6,-4.4,-4.2,-3.8,-3.6,-3.4,-3.2,-2.8,-2.6,-2.4,-2.2,-1.8,-1.6,-1.4,-1.2,-.8,-.6,-.4,-.2,.2,.4,.6,.8,1.2,1.4,1.6,1.8,2.2,2.4,2.6,2.8,3.2,3.4,3.6,3.8],
  xl:[XLL,860,1292,153],yl:[YLL,618,1103,133,1],noclip:true});
const CG='#1fe01f',CR='#d9281f',CB='#1f3fd0';
curve(bmx,dataX,data1,CG,1.5);marks(bmx,dataX,data1,'p',28,CG,CG,.5);
curve(bmx,dataX,data2,'#111',1.5);marks(bmx,dataX,data2,'o',30,'none','#111',1.4);
curve(bmx,dataX,data4,CB,1.5);marks(bmx,dataX,data4,'s',24,'none',CB,1.6);
curve(bmx,dataX,data3,CR,1.5);marks(bmx,dataX,data3,'d',40,'none',CR,1.5);
const lg3=svg.append('g');
lg3.append('rect').attr('x',673.3).attr('y',949).attr('width',127).attr('height',30.3).attr('fill','#fff').attr('stroke','#222').attr('stroke-width',1.3);
[[676,957.7,CG,d3.symbolStar,'data1',28],[676,972,'#111',d3.symbolCircle,'data2',26],[740,957.7,CR,d3.symbolSquare,'data3',26],[740,972,CB,d3.symbolSquare,'data4',20]].forEach(([lx,ly,c,sy,t,ar],i)=>{
  lg3.append('line').attr('x1',lx).attr('x2',lx+29).attr('y1',ly).attr('y2',ly).attr('stroke',c).attr('stroke-width',1.5);
  lg3.append('path').attr('d',d3.symbol().type(sy).size(ar)()).attr('transform',`translate(${lx+14.5},${ly})`+(i===2?' rotate(45)':''))
    .attr('fill',i===0?c:'#fff').attr('stroke',c).attr('stroke-width',1.3);
  lg3.append('text').attr('x',lx+31.5).attr('y',ly).attr('dominant-baseline','central').style('font-family',SERIF).style('font-size','12.5px').attr('fill','#333').text(t);
});

// ---------- BOTTOM RIGHT ----------
const logoG=svg.append('g');
logoG.append('rect').attr('x',1520).attr('y',1249).attr('width',150).attr('height',40).attr('fill','#4a4a4a').attr('fill-opacity',.85);
logoG.append('text').attr('x',1585).attr('y',1270).attr('dominant-baseline','central').style('font-family','"Noto Sans CJK SC"').style('font-weight',700).style('font-style','italic').style('font-size','20px').attr('fill','#6e6e6e').text('开发讯网');
const petalAngle=[0,45,90,135,180,225,270,315];
const petalColor=['#3fc6ea','#f5c04a','#a8d060','#a8d060','#f5c04a','#f5c04a','#3fc6ea','#f5c04a'];
petalAngle.forEach((a,i)=>logoG.append('ellipse').attr('cx',11).attr('cy',0).attr('rx',8).attr('ry',5.5)
   .attr('transform',`translate(1538,1269) rotate(${a})`).attr('fill',petalColor[i]));

const br={font:SANS,fs:10,weight:400,lfs:10.5,lw:700,color:'#222',sw:1.5,tl:2.5,ytp:6,gs:'#d8d8d8',tf:SERIF,tfs:15};
const ar=panel({...br,b:[1193.3,912.7,1475.2,1133.3],xd:[.51,4.13],yd:[0,6.07],xt:groups3,yt:[0,1,2,3,4,5,6],gx:groups3,xtp:10.5,xl:[XLN,1334,1155,95],yl:[YLN,1175,1022,87],tag:['(a)',1210,927]});
bars(ar,groups3,barA,-.218,.157,hA);bars(ar,groups3,barB,0,.157,hB);bars(ar,groups3,barC,.218,.157,hC);
const brb=panel({...br,b:[1513.8,912.7,1635.8,1002.3],xd:[.5,3.63],yd:[0,7.2],xt:groups3,yt:[0,2,4,6],gx:groups3,xtp:8.5,xl:[XLN,1575,1022,94],yl:[YLN,1497.5,957,85],tag:['(b)',1530,924]});
bars(brb,groups3,barA,-.23,.12,hA2);bars(brb,groups3,barB,0,.12,hB2);bars(brb,groups3,barC,.23,.12,hC2);
const brc=panel({...br,b:[1513.8,1040.3,1635.8,1130.3],xd:[1,2.22],yd:[0,12.2],xt:lineX2,yt:[0,5,10],gx:[1.5,2],xtp:9.5,xl:[XLN,1575,1150.7,94],yl:[YLN,1493,1085,85],tag:['(c)',1529,1053],noclip:true});
curve(brc,lineX2,lineCircle,'#555',2.2);marks(brc,lineX2,lineCircle,'o',30,'none','#555',2);
curve(brc,lineX2,lineSquare,'#111',2.2);marks(brc,lineX2,lineSquare,'s',18,'#fff','#111',2);
curve(brc,lineX2,lineDiamond,'#111',2.2);marks(brc,lineX2,lineDiamond,'d',24,'#888','#111',1.8);
const brd=panel({...br,b:[1193.3,1169.3,1315.3,1259],xd:[-2,5.3],yd:[-2.28,5.3],xt:[-2,0,2,4],yt:[-2,0,2,4],gx:[0,2,4],xtp:9,xl:[XLN,1254.8,1279,94],yl:[YLN,1174,1214,85],tag:['(d)',1209,1182]});
marks(brd,scatPinkX,scatPinkY,'o',30,'#111');marks(brd,scatBlackX,scatBlackY,'d',22,'#111');
const bre=panel({...br,b:[1353.9,1169.3,1475.2,1259],xd:[0,14.5],yd:[-2,5.6],xt:[0,5,10],yt:[-2,0,2,4],gx:[5,10],xtp:9,xl:[XLN,1414.4,1279,94],yl:[YLN,1334,1214,85],tag:['(e)',1368,1182]});
curve(bre,errX2,errY2,'#111',2.2);errBoth(bre,errX2,errY2,errE2,3,'#111',2);marks(bre,errX2,errY2,'s',30,'#111','#111',1);
curve(bre,errX1,errY1,'#333',2.2);errBoth(bre,errX1,errY1,errE1,3,'#111',2);marks(bre,errX1,errY1,'d',30,'#555','#111',1);
const brf=panel({...br,b:[1513.8,1169.3,1635.8,1259],xd:[0,7.3],yd:[-1,1.4],xt:[0,2,4,6],yt:[-1,-.5,0,.5,1],gx:[2,4,6],xtp:9,xl:[XLN,1575,1279,94],yl:[YLN,1488,1214,85],tag:['(f)',1527,1182]});
stems(brf,stemX,stemY,'#111',2.2);marks(brf,stemX,stemY,'s',20,'#fff','#111',2);

// ---------- WATERMARK ----------
const wmClip=defs.append('clipPath').attr('id','wmClip');
wmClip.append('rect').attr('x',1300).attr('y',1190).attr('width',220).attr('height',100);
wmClip.append('rect').attr('x',1520).attr('y',1190).attr('width',170).attr('height',59);
const wm=svg.append('g').attr('clip-path','url(#wmClip)').style('font-family','"Noto Sans CJK SC"').style('font-size','40px').style('font-weight',700);
[['知乎',1340,1255],['@',1456,1254],['图通道',1522,1255]].forEach(([t,x,y])=>{
  wm.append('text').attr('x',x).attr('y',y).attr('fill','rgba(165,165,165,.72)').attr('stroke','rgba(255,255,255,.8)').attr('stroke-width',4).attr('paint-order','stroke').text(t);
});
</script>
</body></html>
